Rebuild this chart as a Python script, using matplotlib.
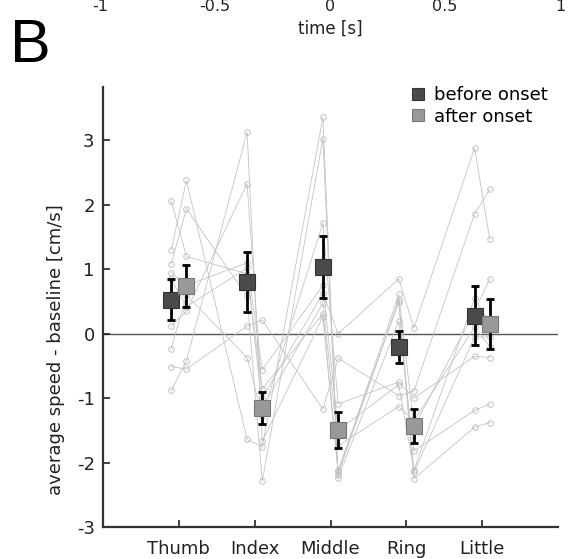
import matplotlib
matplotlib.use('Agg')
import matplotlib.pyplot as plt
import numpy as np

# fingers, before / after onset at each
fingers = ['Thumb', 'Index', 'Middle', 'Ring', 'Little']

# group means and error bars
mean_before = [0.53, 0.80, 1.04, -0.21, 0.28]
err_before = [0.32, 0.47, 0.48, 0.25, 0.455]
mean_after = [0.74, -1.15, -1.49, -1.43, 0.15]
err_after = [0.33, 0.25, 0.28, 0.26, 0.39]

# single subjects: Thumb b/a, Index b/a, Middle b/a, Ring b/a, Little b/a
subjects = [
    [1.30, 2.38, -1.64, -1.76, 3.36, -2.19, 0.53, -2.15, -0.05, -0.05],
    [2.06, 1.20, 0.93, -0.86, 0.31, -2.12, 0.49, -2.25, -1.45, -1.38],
    [1.09, 1.94, 0.58, -2.29, 3.03, -2.24, 0.20, -1.82, -1.19, -1.09],
    [-0.88, -0.42, 3.13, -1.67, 0.26, -2.15, 0.61, -1.45, 0.35, 0.85],
    [-0.51, -0.55, 0.12, 0.21, -1.17, -0.38, -0.96, -0.89, 1.86, 2.24],
    [0.12, 0.35, 2.33, -1.00, 0.63, 0.00, 0.85, 0.09, 2.88, 1.47],
    [-0.23, 0.60, -0.37, -1.27, 1.72, -1.09, -0.75, -1.00, -0.35, -0.37],
    [0.95, 0.75, 1.10, -0.56, 0.75, -1.50, -0.79, -2.12, 0.55, 0.15],
    [0.85, 0.42, 1.02, -1.15, 0.47, -1.74, -1.13, -1.35, 0.10, -0.20],
]

time_ticks = [-1, -0.5, 0, 0.5, 1]
time_labels = ['-1', '-0.5', '0', '0.5', '1']

W, H = 568, 559
fig = plt.figure(figsize=(W / 100, H / 100), dpi=100)
plt.rcParams['font.family'] = ['DejaVu Sans']

ax = fig.add_axes([103 / W, 1 - 527 / H, 455 / W, 440 / H])

pos = np.arange(1, len(fingers) + 1)
off = 0.1
xs = np.ravel(np.column_stack([pos - off, pos + off]))

for s in subjects:
    ax.plot(xs, s, '-', color='#c4c4c4', lw=0.6, zorder=2,
            marker='o', ms=4, mfc='none', mec='#b8b8b8', mew=0.6)

ax.axhline(0, color='#555555', lw=1, zorder=1)

ax.errorbar(pos - off, mean_before, yerr=err_before, fmt='none', ecolor='black',
            elinewidth=2, capsize=3, capthick=2, zorder=3)
ax.errorbar(pos + off, mean_after, yerr=err_after, fmt='none', ecolor='black',
            elinewidth=2, capsize=3, capthick=2, zorder=3)
ax.plot(pos - off, mean_before, 's', ms=11, color='#4a4a4a', mec='#333333',
        mew=0.8, zorder=4, label='before onset')
ax.plot(pos + off, mean_after, 's', ms=11, color='#999999', mec='#777777',
        mew=0.8, zorder=4, label='after onset')

ax.set_xlim(0, 6)
ax.set_ylim(-3, 3.83)
ax.set_xticks(pos)
ax.set_xticklabels(fingers)
ax.set_yticks(np.arange(-3, 4))
ax.set_yticklabels([str(v) for v in range(-3, 4)])
ax.tick_params(direction='in', length=5, width=1.2, labelsize=13, colors='#222222', pad=6)
ax.tick_params(axis='x', pad=9)
for side in ['top', 'right']:
    ax.spines[side].set_visible(False)
for side in ['left', 'bottom']:
    ax.spines[side].set_linewidth(1.6)
    ax.spines[side].set_color('#333333')

ax.set_ylabel('average speed - baseline [cm/s]', fontsize=13, color='#222222')
ax.yaxis.set_label_coords(-0.083, 0.402)

ax.legend(loc='upper left', bbox_to_anchor=(411 / W, 1 - 86 / H),
          bbox_transform=fig.transFigure, frameon=False, fontsize=13,
          handlelength=0.8, handletextpad=0.5, borderpad=0, borderaxespad=0,
          labelspacing=0.2, markerscale=0.85)

# bottom of the panel above (cut off)
ax_top = fig.add_axes([100 / W, 1 + 1 / H, 460 / W, 0.05])
ax_top.set_xlim(-1, 1)
ax_top.set_xticks(time_ticks)
ax_top.set_xticklabels(time_labels)
ax_top.set_yticks([])
for sp in ax_top.spines.values():
    sp.set_visible(False)
ax_top.patch.set_visible(False)
ax_top.tick_params(length=0, pad=0, labelsize=11.5, colors='#222222')
ax_top.set_xlabel('time [s]', fontsize=12, color='#222222', labelpad=4)

fig.text(10 / W, 1 - 62 / H, 'B', fontsize=44, family='Liberation Sans', va='baseline')

fig.savefig('out.png', dpi=100)
